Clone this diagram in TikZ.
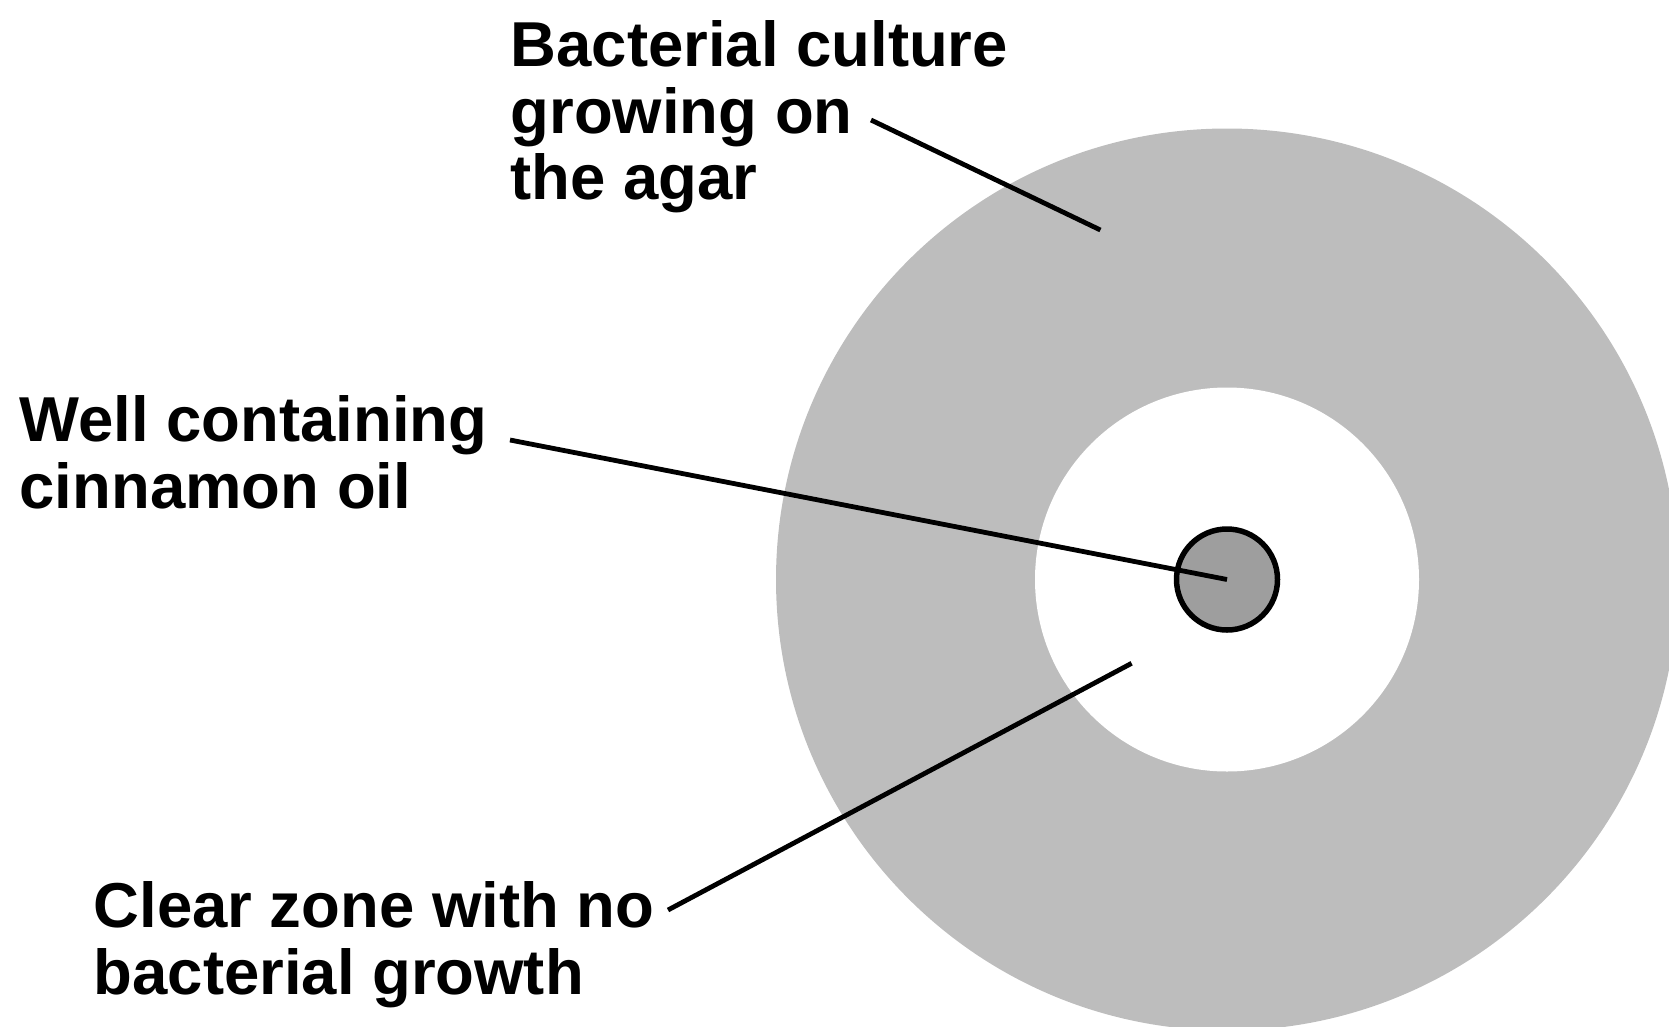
\documentclass[tikz,border=0pt]{standalone}
\usepackage{fontspec}
\setmainfont{Liberation Sans}
\usepackage{xcolor}
\definecolor{agar}{RGB}{189,189,189}
\definecolor{oil}{RGB}{158,158,158}
\usepackage{tikz}
\usetikzlibrary{positioning}

\begin{document}
\begin{tikzpicture}[x=1bp, y=-1bp,
  lbl/.style={anchor=north west, inner sep=0pt, align=left,
    font=\fontsize{63.7}{66.9}\selectfont\bfseries},
  pointer/.style={line width=4.8bp, black}]
\useasboundingbox (0,0) rectangle (1669,1026);
\clip (0,0) rectangle (1669,1026);
% plate: culture ring and clear zone
\fill[agar] (1227,579.5) circle (451);
\fill[white] (1227,579.5) circle (192);
\node[circle, draw, line width=5.5bp, fill=oil, minimum size=101bp, inner sep=0pt] (well) at (1227,579.5) {};
% labels
\node[lbl] (culture) at (510.5,20.2) {Bacterial culture\\growing on\\the agar};
\node[lbl] (wellLbl) at (19.5,395.5) {Well containing\\cinnamon oil};
\node[lbl] (zone) at (93.5,881.5) {Clear zone with no\\bacterial growth};
\coordinate (cultureTip) at (871,120);
\coordinate (cultureEnd) at (1100.4,230);
\coordinate (wellTip) at (510,440);
\coordinate (zoneTip) at (668,910);
\coordinate (zoneEnd) at (1131.6,663.3);
\draw[pointer] (cultureTip) -- (cultureEnd);
\draw[pointer] (wellTip) -- (well.center);
\draw[pointer] (zoneTip) -- (zoneEnd);
\end{tikzpicture}
\end{document}
